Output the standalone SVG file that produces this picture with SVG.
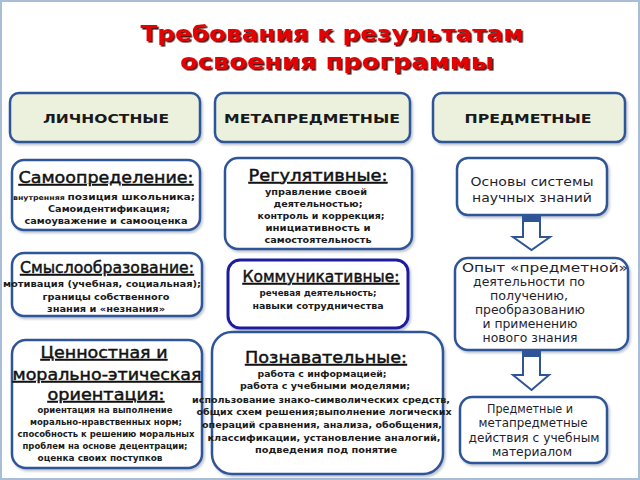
<svg xmlns="http://www.w3.org/2000/svg" width="640" height="480" viewBox="0 0 640 480">
<defs>
<filter id="tsh" x="-10%" y="-30%" width="120%" height="160%"><feDropShadow dx="1.6" dy="1.6" stdDeviation="0.4" flood-color="#3a0000" flood-opacity="0.9"/></filter>
<filter id="bsh" x="-10%" y="-10%" width="120%" height="130%"><feDropShadow dx="1.5" dy="2" stdDeviation="1" flood-color="#7d8aa0" flood-opacity="0.5"/></filter>
<style>
.box{fill:#ffffff;stroke:#2f5597;stroke-width:2.5;filter:url(#bsh)}
.top{fill:#ebf1dd;stroke:#2f5597;stroke-width:2.5;filter:url(#bsh)}
.topt{font-family:"DejaVu Sans",sans-serif;font-weight:bold;font-size:13px;fill:#1a1a1a;text-anchor:middle}
.hdr{font-family:"DejaVu Sans",sans-serif;font-size:16px;fill:#111;stroke:#111;stroke-width:0.45;text-anchor:middle;text-decoration:underline}
.bd{font-family:"DejaVu Sans",sans-serif;font-weight:bold;font-size:9.5px;fill:#1a1a1a;text-anchor:middle}
.lt{font-family:"DejaVu Sans",sans-serif;font-size:12.5px;fill:#1e1e2e;text-anchor:middle}
.arr{fill:#ffffff;stroke:#2f5597;stroke-width:2;stroke-linejoin:miter}
.band{fill:#2f5597}
</style>
</defs>
<rect x="0" y="0" width="640" height="480" fill="#ffffff"/>
<rect x="1" y="1" width="638" height="478" fill="none" stroke="#a9bdd6" stroke-width="2"/>

<g id="title" filter="url(#tsh)">
<text x="332" y="41" font-family="DejaVu Sans, sans-serif" font-weight="bold" font-size="22" fill="#e60000" text-anchor="middle" textLength="383" lengthAdjust="spacingAndGlyphs">Требования к результатам</text>
<text x="337" y="69" font-family="DejaVu Sans, sans-serif" font-weight="bold" font-size="22" fill="#e60000" text-anchor="middle" textLength="314" lengthAdjust="spacingAndGlyphs">освоения  программы</text>
</g>

<g id="lichnostnye">
<rect class="top" x="10" y="93" width="190" height="49" rx="9"/>
<text class="topt" x="106" y="123" textLength="126" lengthAdjust="spacingAndGlyphs">ЛИЧНОСТНЫЕ</text>
</g>
<g id="metapredmetnye">
<rect class="top" x="215" y="93" width="195" height="49" rx="9"/>
<text class="topt" x="312" y="123" textLength="176" lengthAdjust="spacingAndGlyphs">МЕТАПРЕДМЕТНЫЕ</text>
</g>
<g id="predmetnye">
<rect class="top" x="433" y="93" width="192" height="49" rx="9"/>
<text class="topt" x="528" y="123" textLength="127" lengthAdjust="spacingAndGlyphs">ПРЕДМЕТНЫЕ</text>
</g>

<g id="samoopredelenie">
<rect class="box" x="12" y="160" width="188" height="70" rx="12"/>
<text class="hdr" x="106" y="183" textLength="175" lengthAdjust="spacingAndGlyphs">Самоопределение:</text>
<text class="bd" x="104" y="200" textLength="182" lengthAdjust="spacingAndGlyphs"><tspan font-size="7">внутренняя </tspan>позиция школьника;</text>
<text class="bd" x="109" y="212" font-weight="normal" font-size="10" textLength="122" lengthAdjust="spacingAndGlyphs">Самоидентификация;</text>
<text class="bd" x="106" y="224" font-weight="normal" font-size="10" textLength="163" lengthAdjust="spacingAndGlyphs">самоуважение и самооценка</text>
</g>

<g id="regulyativnye">
<rect class="box" x="225" y="158" width="187" height="91" rx="13"/>
<text class="hdr" x="318" y="181" textLength="139" lengthAdjust="spacingAndGlyphs">Регулятивные:</text>
<text class="bd" x="316" y="195" textLength="102" lengthAdjust="spacingAndGlyphs">управление своей</text>
<text class="bd" x="318" y="207" textLength="89" lengthAdjust="spacingAndGlyphs">деятельностью;</text>
<text class="bd" x="321" y="219" textLength="127" lengthAdjust="spacingAndGlyphs">контроль и коррекция;</text>
<text class="bd" x="318" y="231" textLength="105" lengthAdjust="spacingAndGlyphs">инициативность и</text>
<text class="bd" x="318" y="243" textLength="107" lengthAdjust="spacingAndGlyphs">самостоятельность</text>
</g>

<g id="osnovy">
<rect class="box" x="457" y="158" width="150" height="57" rx="11"/>
<text class="lt" x="532" y="186" textLength="123" lengthAdjust="spacingAndGlyphs">Основы системы</text>
<text class="lt" x="532" y="202" textLength="120" lengthAdjust="spacingAndGlyphs">научных знаний</text>
</g>

<g id="smysloobrazovanie">
<rect class="box" x="12" y="253" width="190" height="63" rx="12"/>
<text class="hdr" x="107" y="273" font-size="15" textLength="174" lengthAdjust="spacingAndGlyphs">Смыслообразование:</text>
<text class="bd" x="102" y="287" textLength="198" lengthAdjust="spacingAndGlyphs">мотивация (учебная, социальная);</text>
<text class="bd" x="106" y="300" textLength="127" lengthAdjust="spacingAndGlyphs">границы собственного</text>
<text class="bd" x="106" y="312" textLength="118" lengthAdjust="spacingAndGlyphs">знания и «незнания»</text>
</g>

<g id="kommunikativnye">
<rect x="228" y="260" width="180" height="68" rx="12" fill="#ffffff" stroke="#1c1c9c" stroke-width="3" filter="url(#bsh)"/>
<text class="hdr" x="321" y="282" font-size="15" textLength="157" lengthAdjust="spacingAndGlyphs">Коммуникативные:</text>
<text class="bd" x="318" y="296" textLength="117" lengthAdjust="spacingAndGlyphs">речевая деятельность;</text>
<text class="bd" x="318" y="309" textLength="131" lengthAdjust="spacingAndGlyphs">навыки сотрудничества</text>
</g>

<g id="opyt">
<rect class="box" x="455" y="258" width="173" height="92" rx="13"/>
<text class="lt" x="545" y="272" textLength="166" lengthAdjust="spacingAndGlyphs">Опыт «предметной»</text>
<text class="lt" x="529" y="286" textLength="112" lengthAdjust="spacingAndGlyphs">деятельности по</text>
<text class="lt" x="529" y="300" textLength="78" lengthAdjust="spacingAndGlyphs">получению,</text>
<text class="lt" x="530" y="314" textLength="110" lengthAdjust="spacingAndGlyphs">преобразованию</text>
<text class="lt" x="530" y="328" textLength="95" lengthAdjust="spacingAndGlyphs">и применению</text>
<text class="lt" x="530" y="342" textLength="95" lengthAdjust="spacingAndGlyphs">нового знания</text>
</g>

<g id="cennostnaya">
<rect class="box" x="12" y="340" width="190" height="128" rx="14"/>
<text class="hdr" x="104" y="358" font-size="17.5" textLength="127" lengthAdjust="spacingAndGlyphs">Ценностная и </text>
<text class="hdr" x="107" y="380" font-size="17.5" textLength="189" lengthAdjust="spacingAndGlyphs">морально-этическая</text>
<text class="hdr" x="106" y="400" font-size="17.5" textLength="117" lengthAdjust="spacingAndGlyphs">ориентация:</text>
<text class="bd" x="105" y="413" font-size="9" textLength="135" lengthAdjust="spacingAndGlyphs">ориентация на выполнение</text>
<text class="bd" x="106" y="425" font-size="9" textLength="152" lengthAdjust="spacingAndGlyphs">морально-нравственных норм;</text>
<text class="bd" x="106" y="437" font-size="9" textLength="177" lengthAdjust="spacingAndGlyphs">способность к решению моральных</text>
<text class="bd" x="105" y="449" font-size="9" textLength="165" lengthAdjust="spacingAndGlyphs">проблем на основе децентрации;</text>
<text class="bd" x="100" y="461" font-size="9" textLength="125" lengthAdjust="spacingAndGlyphs">оценка своих поступков</text>
</g>

<g id="poznavatelnye">
<rect class="box" x="212" y="332" width="231" height="142" rx="20"/>
<text class="hdr" x="326" y="363" textLength="162" lengthAdjust="spacingAndGlyphs">Познавательные:</text>
<text class="bd" x="322" y="377" textLength="129" lengthAdjust="spacingAndGlyphs">работа с информацией;</text>
<text class="bd" x="325" y="389" textLength="170" lengthAdjust="spacingAndGlyphs">работа с учебными моделями;</text>
<text class="bd" x="321" y="403" textLength="258" lengthAdjust="spacingAndGlyphs">использование знако-символических средств,</text>
<text class="bd" x="324" y="415" textLength="255" lengthAdjust="spacingAndGlyphs">общих схем решения;выполнение логических</text>
<text class="bd" x="322" y="428" textLength="240" lengthAdjust="spacingAndGlyphs">операций сравнения,  анализа, обобщения,</text>
<text class="bd" x="324" y="441" textLength="233" lengthAdjust="spacingAndGlyphs">классификации, установление аналогий,</text>
<text class="bd" x="326" y="453" textLength="142" lengthAdjust="spacingAndGlyphs">подведения под понятие</text>
</g>

<g id="predmetnye-deystviya">
<rect class="box" x="460" y="397" width="147" height="66" rx="12"/>
<text class="lt" x="530" y="413" textLength="86" lengthAdjust="spacingAndGlyphs">Предметные и</text>
<text class="lt" x="533" y="427" textLength="109" lengthAdjust="spacingAndGlyphs">метапредметные</text>
<text class="lt" x="534" y="442" textLength="131" lengthAdjust="spacingAndGlyphs">действия с учебным</text>
<text class="lt" x="532" y="456" textLength="80" lengthAdjust="spacingAndGlyphs">материалом</text>
</g>

<g id="connectors">
<polygon class="arr" points="523,216 540,216 540,237 550,237 531.5,250 513,237 523,237"/>
<rect class="band" x="522" y="215" width="19" height="7"/>
<polygon class="arr" points="523,351 540,351 540,375 549,375 531.5,390 513,375 523,375"/>
<rect class="band" x="522" y="350" width="19" height="7"/>
</g>
</svg>
